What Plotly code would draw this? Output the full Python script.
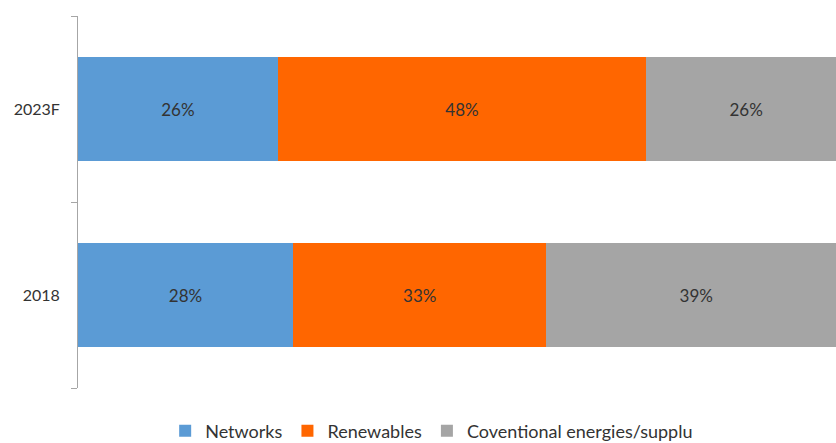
import plotly.graph_objects as go

categories = ["2018", "2023F"]
series_names = ["Networks", "Renewables", "Coventional energies/supplu"]
networks = [28, 26]
renewables = [33, 48]
conventional = [39, 26]
colors = ["#5B9BD5", "#FF6600", "#A5A5A5"]

fig = go.Figure()
for name, vals, col in zip(series_names, [networks, renewables, conventional], colors):
    fig.add_trace(go.Bar(
        y=categories, x=vals, name=name, orientation="h",
        marker=dict(color=col, line=dict(width=0)),
        text=[f"{v}%" for v in vals], textposition="inside",
        insidetextanchor="middle",
        textfont=dict(family="Lato, Open Sans, sans-serif", size=17, color="#333333"),
        hoverinfo="skip",
    ))

fig.update_layout(
    barmode="stack",
    bargap=0.44,
    width=836, height=443,
    margin=dict(l=78, r=0, t=16, b=55, autoexpand=False),
    paper_bgcolor="white", plot_bgcolor="white",
    showlegend=True,
    legend=dict(orientation="h", x=0.115, xanchor="left", y=-0.066, yanchor="top",
                itemwidth=30, tracegroupgap=0,
                font=dict(family="Lato, Open Sans, sans-serif", size=18, color="#333333"),
                traceorder="normal"),
)
fig.update_xaxes(range=[0, 98.7], visible=False, fixedrange=True)
fig.update_yaxes(
    type="category", range=[-0.5, 1.5],
    showline=True, linecolor="#A6A6A6", linewidth=1,
    ticks="outside", tickson="boundaries", ticklen=6, tickcolor="#A6A6A6",
    tickfont=dict(family="Lato, Calibri, sans-serif", size=16, color="#333333"),
    showgrid=False, zeroline=False, ticklabelstandoff=14,
)
fig.write_html("out.html")
